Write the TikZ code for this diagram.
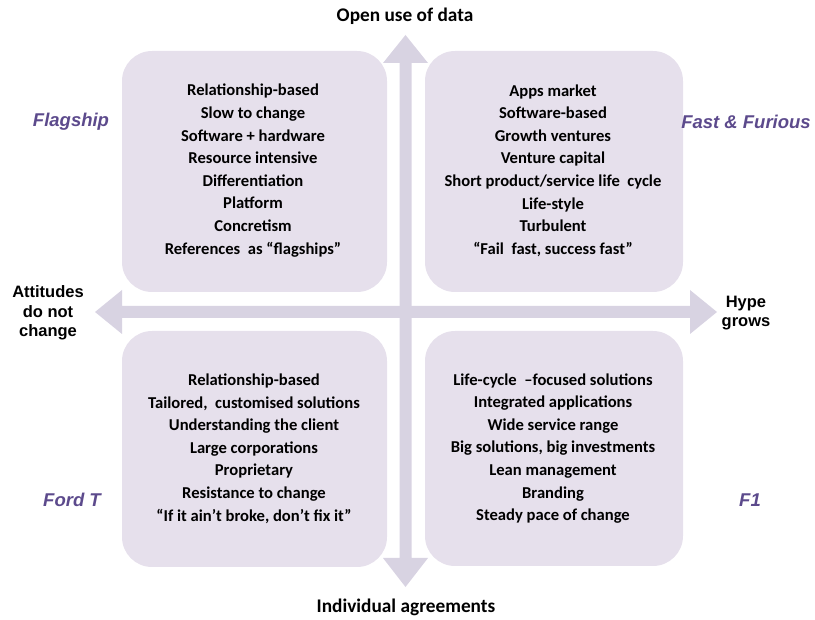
\documentclass[tikz,border=0pt]{standalone}
\usepackage{fontspec}
\setmainfont{Carlito}
\newfontfamily\arialfont{Liberation Sans}
\definecolor{boxfill}{HTML}{E6E0EC}
\definecolor{arrowfill}{HTML}{D8D3E2}
\definecolor{labelpurple}{HTML}{5C4A8C}
\begin{document}
\begin{tikzpicture}[x=1pt,y=-1pt,
  quad/.style={fill=boxfill,draw=none,rounded corners=30pt},
  boxtext/.style={align=center,font=\fontsize{16.6}{22.6}\selectfont\bfseries,text=black,inner sep=0pt},
  qlabel/.style={font=\arialfont\fontsize{18.5}{20}\selectfont\bfseries\itshape,text=labelpurple,inner sep=0pt},
  axislabel/.style={font=\fontsize{19.3}{21}\selectfont\bfseries,text=black,inner sep=0pt,align=center},
  sidelabel/.style={font=\arialfont\fontsize{16.5}{19.5}\selectfont\bfseries,text=black,inner sep=0pt,align=center},
  axisarrow/.style={fill=arrowfill,draw=none}]
\useasboundingbox (0,0) rectangle (815,620);
% quadrant boxes
\fill[quad] (122,51) rectangle (387,292);
\fill[quad] (425,51) rectangle (683,292);
\fill[quad] (122,331) rectangle (387,567);
\fill[quad] (425,331) rectangle (683,566);
% vertical double arrow
\fill[axisarrow] (405.5,35) -- (428,63) -- (411.5,63) -- (411.5,558) -- (428,558) -- (405.5,587)
  -- (383,558) -- (399.5,558) -- (399.5,63) -- (383,63) -- cycle;
% horizontal double arrow
\fill[axisarrow] (95,312) -- (122,290) -- (122,306) -- (690,306) -- (690,290) -- (717,312)
  -- (690,334) -- (690,318) -- (122,318) -- (122,334) -- cycle;
% box texts
\node[boxtext] (tl) at (253,170.5) {Relationship-based\\Slow to change\\Software + hardware\\Resource intensive\\Differentiation\\Platform\\Concretism\\References\ \ as “flagships”};
\node[boxtext] (tr) at (553,170.5) {Apps market\\Software-based\\Growth ventures\\Venture capital\\Short product/service life\ \ cycle\\Life-style\\Turbulent\\“Fail\ \ fast, success fast”};
\node[boxtext] (bl) at (254,448.5) {Relationship-based\\Tailored,\ \ customised solutions\\Understanding the client\\Large corporations\\Proprietary\\Resistance to change\\“If it ain’t broke, don’t fix it”};
\node[boxtext] (br) at (553,448.5) {Life-cycle\ \ –focused solutions\\Integrated applications\\Wide service range\\Big solutions, big investments\\Lean management\\Branding\\Steady pace of change};
% quadrant labels
\node[qlabel] (flag) at (71,122) {Flagship};
\node[qlabel] (fast) at (746,122) {Fast \& Furious};
\node[qlabel] (ford) at (72,500) {Ford T};
\node[qlabel] (f1) at (750,500) {F1};
% axis labels
\node[axislabel] (top) at (405,16) {Open use of data};
\node[axislabel] (bot) at (406,607) {Individual agreements};
\node[sidelabel] (left) at (48,313) {Attitudes\\do not\\change};
\node[sidelabel] (right) at (746,313) {Hype\\grows};
\end{tikzpicture}
\end{document}
